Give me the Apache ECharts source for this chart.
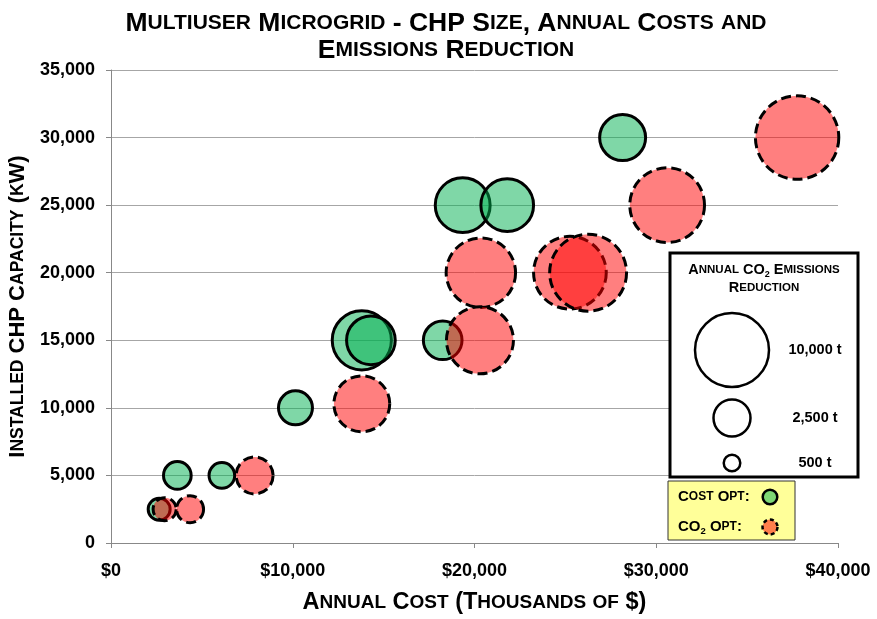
<!DOCTYPE html>
<html>
<head>
<meta charset="utf-8">
<script src="https://cdn.jsdelivr.net/npm/echarts@6/dist/echarts.min.js"></script>
<style>html,body{margin:0;padding:0;background:#fff;}#c{width:877px;height:619px;}</style>
</head>
<body>
<div id="c"></div>
<script>
// ---- data ----
const costOptCost = [28150, 19350, 21800, 13800, 14300, 18250, 10150, 3650, 6100, 2650];
const costOptCHP  = [30000, 25000, 25000, 15000, 15000, 15000, 10000, 5000, 5000, 2500];
const costOptCO2  = [3860, 5500, 5070, 6400, 4330, 2730, 2110, 1400, 1200, 880];

const co2OptCost = [37750, 30600, 20350, 25250, 26250, 20300, 13800, 7900, 2950, 4350];
const co2OptCHP  = [30000, 25000, 20000, 20000, 20000, 15000, 10300, 5000, 2500, 2500];
const co2OptCO2  = [12700, 10200, 8800, 9650, 10800, 8200, 5700, 2500, 970, 1330];

const legendSizes = [10000, 2500, 500];
const legendSizeLabels = ['10,000 t', '2,500 t', '500 t'];

const titleText = 'Multiuser Microgrid - CHP Size, Annual Costs and\nEmissions Reduction';
const xTitle = 'Annual Cost (Thousands of $)';
const yTitle = 'Installed CHP Capacity (kW)';

// ---- helpers ----
const FONT = '"Liberation Sans", Arial, sans-serif';
const K = 0.74; // diameter per sqrt(tonnes)
function bubble(v) { return K * Math.sqrt(v); }
function sc(str, b, s) {
  return str.split('\n').map(line => {
    let out = '';
    line.replace(/([a-z]+)|([^a-z]+)/g, (m, low, other) => {
      out += low ? '{' + s + '|' + low.toUpperCase() + '}' : '{' + b + '|' + other + '}';
      return m;
    });
    return out;
  }).join('\n');
}
function st(size, lh, extra) {
  return Object.assign({fontFamily: FONT, fontWeight: 'bold', fontSize: size, color: '#000', lineHeight: lh}, extra || {});
}

const chart = echarts.init(document.getElementById('c'), null, {renderer: 'canvas'});

const greenFill = 'rgba(0,176,80,0.5)';
const redFill = 'rgba(255,0,0,0.5)';

const legendX = 732;
const legendYs = [350, 418, 463];

const graphics = [
  {type: 'text', x: 446, y: 10, z: 100,
    style: {text: sc(titleText, 'B', 'S'), align: 'center', verticalAlign: 'top', textAlign: 'center', textVerticalAlign: 'top',
      rich: {B: st(26.5, 27), S: st(21, 27)}}},
  {type: 'rect', z: 100, shape: {x: 670, y: 253, width: 188, height: 224},
    style: {fill: '#fff', stroke: '#000', lineWidth: 3}},
  {type: 'text', x: 764, y: 261, z: 101,
    style: {text: sc('Annual CO', 'B', 'S') + '{sub|2}' + sc(' Emissions\nReduction', 'B', 'S'),
      align: 'center', verticalAlign: 'top', textAlign: 'center', textVerticalAlign: 'top',
      rich: {B: st(14.5, 18), S: st(11.5, 18), sub: st(9, 8, {verticalAlign: 'bottom'})}}},
  {type: 'rect', z: 100, shape: {x: 668, y: 481, width: 127, height: 59},
    style: {fill: '#ffff99', stroke: '#333', lineWidth: 1}},
  {type: 'text', x: 678, y: 497, z: 101,
    style: {text: sc('Cost Opt:', 'B', 'S'), align: 'left', verticalAlign: 'middle', textAlign: 'left', textVerticalAlign: 'middle',
      rich: {B: st(15, 18), S: st(12, 18)}}},
  {type: 'text', x: 678, y: 527, z: 101,
    style: {text: sc('CO', 'B', 'S') + '{sub|2}' + sc(' Opt:', 'B', 'S'), align: 'left', verticalAlign: 'middle', textAlign: 'left', textVerticalAlign: 'middle',
      rich: {B: st(15, 18), S: st(12, 18), sub: st(9.5, 8, {verticalAlign: 'bottom'})}}},
  {type: 'circle', z: 101, shape: {cx: 770, cy: 497, r: 7.3},
    style: {fill: greenFill, stroke: '#000', lineWidth: 2.5}},
  {type: 'circle', z: 101, shape: {cx: 770, cy: 527, r: 7.5},
    style: {fill: redFill, stroke: '#000', lineWidth: 2.5, lineDash: [4, 3]}}
];
legendSizes.forEach((v, i) => {
  graphics.push({type: 'circle', z: 101, shape: {cx: legendX, cy: legendYs[i], r: bubble(v) / 2},
    style: {fill: '#fff', stroke: '#000', lineWidth: 2.5}});
  graphics.push({type: 'text', x: 815, y: legendYs[i], z: 101,
    style: {text: legendSizeLabels[i], fill: '#000', font: 'bold 14.5px ' + FONT,
      align: 'center', verticalAlign: 'middle', textAlign: 'center', textVerticalAlign: 'middle'}});
});

const option = {
  animation: false,
  backgroundColor: '#fff',
  grid: {left: 111, right: 39, top: 70, bottom: 76, containLabel: false, outerBoundsMode: 'none'},
  xAxis: {
    type: 'value', min: 0, max: 40000, interval: 10000,
    name: sc(xTitle, 'B', 'S'), nameLocation: 'middle', nameGap: 47,
    nameTextStyle: {rich: {B: st(23.5, 26), S: st(19, 26)}},
    axisLine: {show: true, lineStyle: {color: '#888', width: 1}},
    axisTick: {show: true, length: 5, lineStyle: {color: '#888'}},
    splitLine: {show: false},
    axisLabel: {margin: 19, color: '#000', fontFamily: FONT, fontWeight: 'bold', fontSize: 18,
      formatter: v => '$' + v.toLocaleString('en-US')}
  },
  yAxis: {
    type: 'value', min: 0, max: 35000, interval: 5000,
    name: sc(yTitle, 'B', 'S'), nameLocation: 'middle', nameGap: 76, nameRotate: 90,
    nameTextStyle: {rich: {B: st(22, 26), S: st(17.5, 26)}},
    axisLine: {show: true, lineStyle: {color: '#888', width: 1}},
    axisTick: {show: true, length: 5, lineStyle: {color: '#888'}},
    splitLine: {show: true, lineStyle: {color: '#a6a6a6', width: 1}},
    axisLabel: {margin: 16, color: '#000', fontFamily: FONT, fontWeight: 'bold', fontSize: 18,
      formatter: v => v.toLocaleString('en-US')}
  },
  series: [
    {
      type: 'scatter', name: 'Cost Opt',
      data: costOptCost.map((x, i) => [x, costOptCHP[i], costOptCO2[i]]),
      symbol: 'circle',
      symbolSize: d => bubble(d[2]),
      itemStyle: {color: greenFill, borderColor: '#000', borderWidth: 3, opacity: 1},
      emphasis: {disabled: true}, silent: true, z: 3
    },
    {
      type: 'scatter', name: 'CO2 Opt',
      data: co2OptCost.map((x, i) => [x, co2OptCHP[i], co2OptCO2[i]]),
      symbol: 'circle',
      symbolSize: d => bubble(d[2]),
      itemStyle: {color: redFill, borderColor: '#000', borderWidth: 3, borderType: [10, 5], opacity: 1},
      emphasis: {disabled: true}, silent: true, z: 4
    }
  ],
  graphic: {elements: graphics}
};
chart.setOption(option);
</script>
</body>
</html>
